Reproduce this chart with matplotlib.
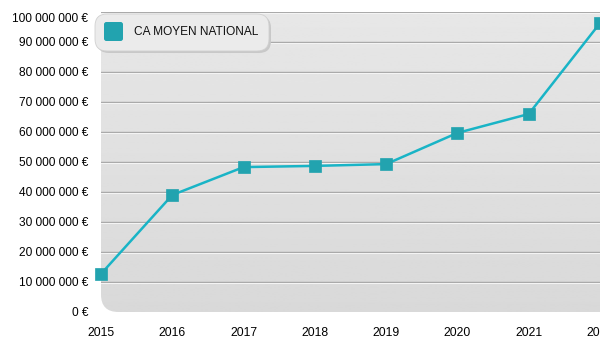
"""CA moyen national par année."""

import matplotlib

matplotlib.use("Agg")
import matplotlib.pyplot as plt
import numpy as np
from matplotlib.patches import FancyBboxPatch
from matplotlib.transforms import ScaledTranslation

YEARS = [2015, 2016, 2017, 2018, 2019, 2020, 2021, 2022]
CA_MOYEN = [12_700_000, 39_000_000, 48_300_000, 48_700_000, 49_300_000,
            59_700_000, 66_000_000, 96_300_000]
Y_TICKS = list(range(0, 100_000_001, 10_000_000))
SERIES_LABEL = "CA MOYEN NATIONAL"

LINE_COLOR = "#19b4c6"
MARKER_COLOR = "#22a3af"

plt.rcParams["font.family"] = ["Liberation Sans", "DejaVu Sans"]


def euro(v):
    return f"{v:,.0f}".replace(",", " ") + " €"


fig = plt.figure(figsize=(6, 3.5), dpi=100)
ax = fig.add_axes([101 / 600, 38 / 350, 499 / 600, 300 / 350])
ax.set_xlim(YEARS[0], YEARS[-1])
ax.set_ylim(0, 100_000_000)
for s in ax.spines.values():
    s.set_visible(False)
ax.set_facecolor("none")

# rounded gray panel with a vertical gradient
panel = FancyBboxPatch((0, 0), 1.1, 1, boxstyle="round,pad=0,rounding_size=0.035",
                       transform=ax.transAxes, facecolor="none", edgecolor="none",
                       mutation_aspect=499 / 300)
ax.add_patch(panel)
grad = np.linspace(0.85, 0.905, 256).reshape(-1, 1)
img = ax.imshow(grad, cmap="gray", vmin=0, vmax=1, aspect="auto",
                extent=(0, 1.1, 0, 1), origin="lower",
                transform=ax.transAxes, zorder=0)
img.set_clip_path(panel)

for t in Y_TICKS[1:]:
    ax.axhline(t, color="#a6a6a6", lw=1.0, zorder=1)
    ax.axhline(t - 0.35e6, color="#f4f4f4", lw=0.8, zorder=1)

ax.plot(YEARS, CA_MOYEN, color=LINE_COLOR, lw=1.8, zorder=3, clip_on=False)
ax.plot(YEARS, CA_MOYEN, ls="none", marker="s", ms=8.5, mfc=MARKER_COLOR,
        mec=MARKER_COLOR, mew=0.5, zorder=4, clip_on=False)

ax.set_yticks(Y_TICKS)
ax.set_yticklabels([euro(v) for v in Y_TICKS])
ax.set_xticks(YEARS)
ax.set_xticklabels([str(y) for y in YEARS])
ax.tick_params(axis="y", length=0, pad=9, labelsize=8.6)
ax.tick_params(axis="x", length=0, pad=11, labelsize=8.8)

# top label sits a little below its gridline
top = ax.get_yticklabels()[-1]
top.set_transform(top.get_transform() + ScaledTranslation(0, -0.06, fig.dpi_scale_trans))

# legend box
leg_shadow = FancyBboxPatch((97 / 600, (350 - 53) / 350), 174 / 600, 37 / 350,
                            boxstyle="round,pad=0,rounding_size=0.02",
                            transform=fig.transFigure, facecolor="#c8c8c8",
                            edgecolor="none", zorder=5, mutation_aspect=600 / 350)
leg_box = FancyBboxPatch((95 / 600, (350 - 51) / 350), 174 / 600, 37 / 350,
                         boxstyle="round,pad=0,rounding_size=0.02",
                         transform=fig.transFigure, facecolor="#ebebeb",
                         edgecolor="#d0d0d0", lw=0.6, zorder=6,
                         mutation_aspect=600 / 350)
fig.patches.extend([leg_shadow, leg_box])
sw = FancyBboxPatch((104 / 600, (350 - 41) / 350), 19 / 600, 19 / 350,
                    boxstyle="round,pad=0,rounding_size=0.004",
                    transform=fig.transFigure, facecolor=MARKER_COLOR,
                    edgecolor="none", zorder=7, mutation_aspect=600 / 350)
fig.patches.append(sw)
fig.text(134 / 600, (350 - 32) / 350, SERIES_LABEL, fontsize=8.6, va="center",
         ha="left", color="#111111", zorder=8)

fig.savefig("out.png", dpi=100)
